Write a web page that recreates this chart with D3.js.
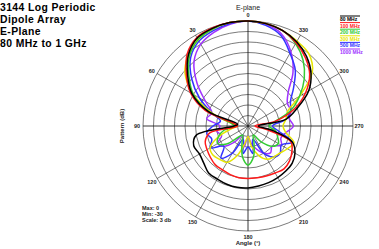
<!DOCTYPE html>
<html><head><meta charset="utf-8">
<script src="https://cdn.jsdelivr.net/npm/d3@7"></script>
<style>
html,body{margin:0;padding:0;background:#fff;}
svg{display:block;}
text{font-family:"Liberation Sans",Arial,sans-serif;}
</style></head>
<body>
<svg id="chart" width="379" height="249"></svg>
<script>
// ---- data ----
const titleLines = ["3144 Log Periodic", "Dipole Array", "E-Plane", "80 MHz to 1 GHz"];
const angles = d3.range(0, 360, 10); // degrees, counter-clockwise from top
const seriesNames = ["80 MHz", "100 MHz", "200 MHz", "300 MHz", "500 MHz", "1000 MHz"];
const seriesColors = ["#000000", "#ff1a1a", "#33cc33", "#e6e600", "#3333ff", "#a033ff"];
const s80  = [0,0,-0.3,-1,-3.5,-7.5,-11.5,-18,-27,-26,-15,-13.5,-14,-13.5,-12.5,-12.5,-12.3,-12.2,-12.3,-12.6,-12.8,-13,-13.2,-13.5,-14.5,-16.5,-23,-27,-19,-15,-10,-6.5,-4,-2.2,-1,-0.3];
const s100 = [0,0,-0.2,-0.8,-3,-7,-11,-17,-26,-27,-19,-17,-16.5,-16,-15.5,-15.5,-15.2,-15,-15,-15,-14.8,-14.5,-14,-14.5,-15.5,-17,-25,-28,-22,-16,-11,-7,-4.5,-2.5,-1,-0.3];
const s200 = [0,0,-0.5,-1.5,-4,-8,-12,-18,-25,-26,-23,-21,-20,-22,-26,-27,-25,-21,-18.8,-21,-25,-27,-24,-21,-20,-21,-22,-24,-22,-17,-13,-9,-5.5,-2.8,-1,-0.3];
const s300 = [0,0,-0.5,-1.5,-3.5,-6.5,-12,-19,-25,-27,-25,-21,-17.5,-17,-17.5,-18,-21,-25,-27,-24,-21,-19,-18.5,-18,-17,-16,-19,-20,-19,-18,-13,-6,-3,-2,-1,-0.3];
const s500 = [0,-0.3,-1,-2,-4.5,-9,-14,-19,-22,-20,-18,-19,-17.5,-21,-18,-21,-26,-22,-24,-22,-26,-21,-18.5,-18,-19,-16.5,-21,-23,-19,-17,-16,-13,-9,-6,-2.5,-0.8];
const s1000= [0,-0.5,-1.5,-3,-6,-11,-16,-19,-18,-22,-21,-22,-20,-21,-24,-27,-26,-24,-27,-25,-23,-21,-20,-21,-19,-20,-19,-17,-18,-17,-17,-15,-10,-5.5,-2,-0.5];
const seriesValues = [s80, s100, s200, s300, s500, s1000];
const ringLevels = d3.range(-27, 1, 3); // dB
const spokeAngles = d3.range(0, 360, 30);
const statsLines = ["Max: 0", "Min: -30", "Scale: 3 db"];

// ---- drawing ----
const svg = d3.select("#chart");
const cx = 248, cy = 126, R = 105;
const r = d3.scaleLinear().domain([-30, 0]).range([0, R]).clamp(true);
const toRad = d => -d * Math.PI / 180; // counter-clockwise

// title
svg.append("g").selectAll("text").data(titleLines).join("text")
  .attr("x", 0).attr("y", (d, i) => 10.5 + i * 12)
  .attr("font-size", 10.4).attr("font-weight", "bold").attr("fill", "#000")
  .attr("letter-spacing", 0.4)
  .text(d => d);

const g = svg.append("g").attr("transform", `translate(${cx},${cy})`);

// rings
g.append("g").selectAll("circle").data(ringLevels).join("circle")
  .attr("r", d => r(d)).attr("fill", "none").attr("stroke", "#222").attr("stroke-width", 0.6);
// spokes
g.append("g").selectAll("line").data(spokeAngles).join("line")
  .attr("x1", 0).attr("y1", 0)
  .attr("x2", d => R * Math.sin(toRad(d)))
  .attr("y2", d => -R * Math.cos(toRad(d)))
  .attr("stroke", "#222").attr("stroke-width", d => d % 90 === 0 ? 0.9 : 0.6);
// angle labels
g.append("g").selectAll("text").data(spokeAngles).join("text")
  .attr("x", d => 111 * Math.sin(toRad(d)))
  .attr("y", d => -111 * Math.cos(toRad(d)))
  .attr("text-anchor", "middle").attr("dominant-baseline", "central")
  .attr("font-size", 5.5).attr("font-weight", "bold").attr("fill", "#222")
  .text(d => d);

// patterns
const line = d3.lineRadial()
  .angle(d => toRad(d[0]))
  .radius(d => r(d[1]))
  .curve(d3.curveCatmullRomClosed.alpha(0.5));
const order = [5, 4, 3, 2, 1, 0];
g.append("g").selectAll("path").data(order).join("path")
  .attr("d", i => line(angles.map((a, k) => [a, seriesValues[i][k]])))
  .attr("fill", "none").attr("stroke", i => seriesColors[i]).attr("stroke-width", 1.5)
  .attr("stroke-linejoin", "round");

// axis titles
svg.append("text").attr("x", cx).attr("y", 10).attr("text-anchor", "middle")
  .attr("font-size", 7).attr("fill", "#222").text("E-plane");
svg.append("text").attr("transform", `translate(124,${cy}) rotate(-90)`)
  .attr("text-anchor", "middle").attr("font-size", 6).attr("font-weight", "bold").attr("fill", "#222")
  .text("Pattern (dB)");
svg.append("text").attr("x", cx).attr("y", 245).attr("text-anchor", "middle")
  .attr("font-size", 6).attr("font-weight", "bold").attr("fill", "#222").text("Angle (°)");
svg.append("g").selectAll("text").data(statsLines).join("text")
  .attr("x", 142).attr("y", (d, i) => 210 + i * 5.8)
  .attr("font-size", 5.5).attr("font-weight", "bold").attr("fill", "#222").text(d => d);

// legend
const leg = svg.append("g").attr("transform", "translate(340,16)");
const le = leg.selectAll("g").data(seriesNames).join("g")
  .attr("transform", (d, i) => `translate(0,${i * 6.6})`);
le.append("line").attr("x1", 0).attr("x2", 20).attr("y1", 0).attr("y2", 0)
  .attr("stroke", (d, i) => seriesColors[i]).attr("stroke-width", 1);
le.append("text").attr("x", 0).attr("y", 5).attr("font-size", 5).attr("font-weight", "bold")
  .attr("fill", (d, i) => seriesColors[i]).text(d => d);
</script>
</body></html>
